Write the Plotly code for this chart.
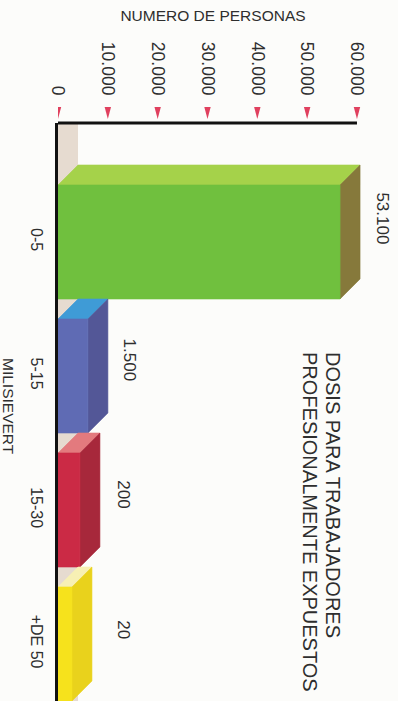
import plotly.graph_objects as go

# ---------------- data ----------------
categorias = ["0-5", "5-15", "15-30", "+DE 50"]
personas = [53100, 1500, 200, 20]                      # values printed on the chart
etiquetas = ["53.100", "1.500", "200", "20"]
longitud_dibujada = [56600, 6000, 4400, 2800]          # bar lengths as drawn (small bars exaggerated)
ticks_x = [0, 10000, 20000, 30000, 40000, 50000, 60000]
ticks_x_texto = ["0", "10.000", "20.000", "30.000", "40.000", "50.000", "60.000"]
titulo_eje_x = "NUMERO DE PERSONAS"
titulo_eje_y = "MILISIEVERT"
titulo_lineas = ["DOSIS PARA TRABAJADORES", "PROFESIONALMENTE EXPUESTOS"]

# ---------------- style ----------------
col_frente = ["#70c03e", "#5f6bb4", "#cb2a45", "#f6e21c"]
col_arriba = ["#a5d24a", "#3f9bd6", "#e37a7e", "#f7f0b4"]
col_lado = ["#86793b", "#535797", "#a7283b", "#e9d21c"]
col_muro = "#e6dbd0"
col_texto = "#2e2e2e"
col_triangulo = "#e0405e"
FONT = "Liberation Sans, Arial, Helvetica, sans-serif"

W, H = 398, 701
ML, MT, MR, MB = 58, 123, 0, 0
PW, PH = W - ML - MR, H - MT - MB
PX_X = 0.004983          # px per unit on value axis
PX_Y = 134.0             # px per category
X_MAX = PW / PX_X
Y_TOP = -(242 - MT) / PX_Y
Y_BOT = Y_TOP + PH / PX_Y
DX = 20 / PX_X           # 3D depth in data units
DY = 20 / PX_Y
HH = (1 - DY) / 2
LABEL_SHIFT = [24, 16, 16, 14]   # vertical nudge of value labels (px)

fig = go.Figure()

def poly(xs, ys, color):
    fig.add_trace(go.Scatter(
        x=xs + [xs[0]], y=ys + [ys[0]], mode="lines", fill="toself",
        fillcolor=color, line=dict(color=color, width=0.6),
        hoverinfo="skip", showlegend=False))

for i, L in enumerate(longitud_dibujada):
    c = i
    top, bot = c - HH, c + HH
    poly([0, L, L + DX, DX], [top, top, top - DY, top - DY], col_arriba[i])   # top face
    poly([L, L + DX, L + DX, L], [top, top - DY, bot - DY, bot], col_lado[i])  # side face
    poly([0, L, L, 0], [top, top, bot, bot], col_frente[i])                    # front face

# tick triangles above the axis (paper y, data x)
tri_w = 3.2 / PX_X
y_hi = 1 + (MT - 107) / PH
y_lo = 1 + (MT - 119) / PH
for tx in ticks_x:
    fig.add_shape(type="path", xref="x", yref="paper",
                  path=f"M {tx - tri_w},{y_hi} L {tx + tri_w},{y_hi} L {tx},{y_lo} Z",
                  fillcolor=col_triangulo, line=dict(width=0))

# value labels
for i, (L, t) in enumerate(zip(longitud_dibujada, etiquetas)):
    fig.add_annotation(
        x=max(L + DX + 4524, 13200), y=i, xref="x", yref="y", text=t,
        textangle=90, showarrow=False, yshift=LABEL_SHIFT[i],
        font=dict(family=FONT, size=17, color=col_texto))

# chart title (two rotated lines)
for t, px in zip(titulo_lineas, [333, 310]):
    fig.add_annotation(
        x=(px - ML) / PW, y=1 - (350 - MT) / PH,
        xref="paper", yref="paper", text=t, textangle=90, showarrow=False,
        xanchor="center", yanchor="top",
        font=dict(family=FONT, size=20, color=col_texto))

# y-axis title
fig.add_annotation(
    x=(9 - ML) / PW, y=1 - (406 - MT) / PH,
    xref="paper", yref="paper", text=titulo_eje_y, textangle=90,
    showarrow=False, xanchor="center", yanchor="middle",
    font=dict(family=FONT, size=15.5, color=col_texto))

# back wall strip and top axis line
fig.add_shape(type="rect", xref="x", yref="paper", x0=0, x1=DX, y0=0, y1=1,
              fillcolor=col_muro, line=dict(width=0), layer="below")
fig.add_shape(type="line", xref="x", yref="paper", x0=0, x1=ticks_x[-1], y0=1, y1=1,
              line=dict(color="#111111", width=3))

fig.update_layout(
    width=W, height=H,
    margin=dict(l=ML, r=MR, t=MT, b=MB, pad=0, autoexpand=False),
    paper_bgcolor="#fcfcfa", plot_bgcolor="#fcfcfa",
    showlegend=False,
    title=dict(text=titulo_eje_x, x=213 / W, xanchor="center",
               y=1 - 15.5 / H, yanchor="middle",
               font=dict(family=FONT, size=15.5, color=col_texto)),
    xaxis=dict(side="top", range=[0, X_MAX], tickmode="array",
               tickvals=ticks_x, ticktext=ticks_x_texto, tickangle=90,
               ticks="", showgrid=False, zeroline=False, showline=False,
               ticklabelstandoff=24, automargin=False,
               tickfont=dict(family=FONT, size=17.5, color=col_texto)),
    yaxis=dict(range=[Y_BOT, Y_TOP], tickmode="array", tickvals=list(range(len(categorias))),
               ticktext=categorias, tickangle=90, ticks="", showgrid=False,
               zeroline=False, showline=True, linecolor="#111111", linewidth=2.5,
               ticklabelstandoff=5, automargin=False,
               tickfont=dict(family=FONT, size=16, color=col_texto)),
)

fig.write_html("out.html", config={"displayModeBar": False},
               post_script="document.body.style.margin='0';"
                           "document.body.style.background='#fcfcfa';")
